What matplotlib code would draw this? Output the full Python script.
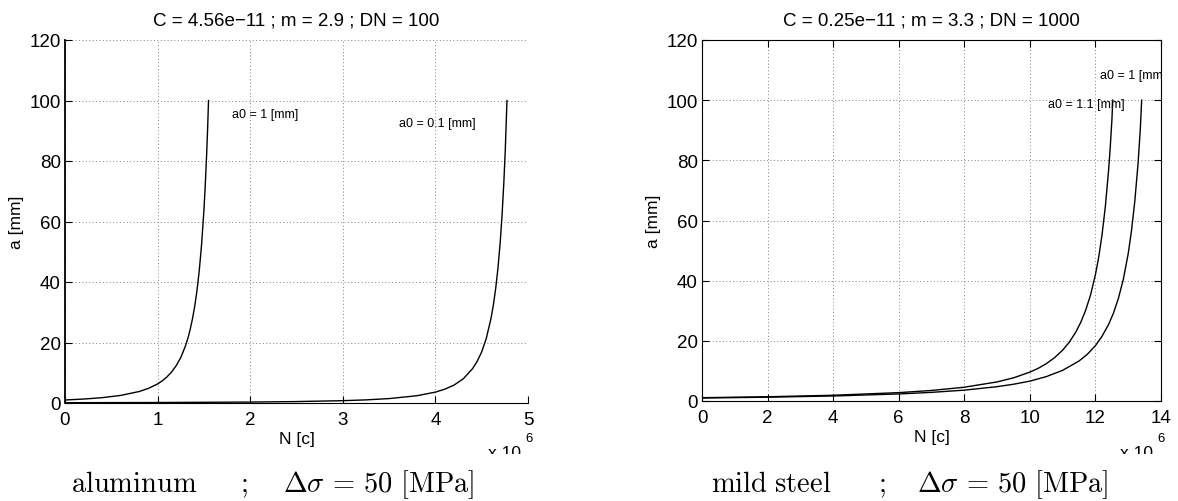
import matplotlib.pyplot as plt
from matplotlib.patches import Rectangle

plt.rcParams['font.family'] = ['Liberation Sans', 'DejaVu Sans']
plt.rcParams['mathtext.fontset'] = 'cm'

# N in millions of cycles, a in mm
al_n_1 = [0, 0.2, 0.4, 0.6, 0.8, 0.9, 1.0, 1.05, 1.1, 1.15, 1.2, 1.25, 1.3, 1.33, 1.35,
          1.375, 1.4, 1.425, 1.45, 1.475, 1.5, 1.515, 1.53, 1.54, 1.55]
al_a_1 = [1.0, 1.30, 1.76, 2.50, 3.79, 4.82, 6.3, 7.32, 8.6, 10.2, 12.3, 15.0, 18.8, 21.7, 24.1,
          27.6, 31.8, 37.1, 43.8, 52.4, 63.6, 72.2, 82.5, 90.5, 100]
al_n_2 = [0, 1, 2, 2.5, 3, 3.25, 3.5, 3.8, 4.0, 4.1, 4.2, 4.3, 4.4, 4.45, 4.5, 4.55, 4.6,
          4.625, 4.65, 4.675, 4.7, 4.72, 4.74, 4.755, 4.773]
al_a_2 = [0.1, 0.16, 0.31, 0.47, 0.77, 1.03, 1.46, 2.40, 3.6, 4.55, 5.9, 7.97, 11.3, 13.7, 16.9, 21.4, 27.9,
          32.2, 37.6, 44.4, 53.2, 62.2, 73.4, 83.9, 100]

st_n_1 = [0, 2, 4, 6, 7, 8, 9, 9.5, 10, 10.25, 10.5, 10.75, 11, 11.2, 11.4, 11.55, 11.7, 11.85,
          12.0, 12.1, 12.2, 12.3, 12.4, 12.45, 12.5, 12.53]
st_a_1 = [1.1, 1.41, 1.91, 2.78, 3.50, 4.58, 6.34, 7.69, 9.6, 10.84, 12.4, 14.37, 16.9, 19.5, 22.9, 26.1, 30.1, 35.2,
          42.0, 47.8, 55.1, 64.4, 76.5, 84.0, 93.0, 100]
st_n_2 = [0, 2, 4, 6, 7, 8, 9, 9.5, 10, 10.5, 11, 11.5, 11.75, 12, 12.2, 12.4, 12.55, 12.7,
          12.85, 13.0, 13.1, 13.2, 13.3, 13.37, 13.41]
st_a_2 = [1.0, 1.26, 1.67, 2.34, 2.87, 3.61, 4.76, 5.57, 6.6, 8.1, 10.2, 13.3, 15.5, 18.4, 21.5, 25.4, 29.2, 34.1,
          40.4, 49.0, 56.6, 66.3, 78.9, 90.6, 100]

al_title = "C = 4.56e\u221211 ; m = 2.9 ; DN = 100"
st_title = "C = 0.25e\u221211 ; m = 3.3 ; DN = 1000"

W, H = 1178, 502
fig = plt.figure(figsize=(W / 100, H / 100), dpi=100)


def px_box(x0, y0, x1, y1):
    return [x0 / W, 1 - y1 / H, (x1 - x0) / W, (y1 - y0) / H]


def style(ax, xmax, xticks, box):
    ax.set_xlim(0, xmax)
    ax.set_ylim(0, 120)
    ax.set_xticks(xticks)
    ax.set_yticks(range(0, 121, 20))
    ax.grid(True, linestyle=(0, (1, 2.5)), color='0.5', linewidth=0.7)
    ax.set_axisbelow(True)
    ax.tick_params(direction='in', length=5, labelsize=13.5, top=box, right=box)
    ax.tick_params(axis='x', pad=6)
    ax.tick_params(axis='y', pad=3)
    for s in ['top', 'right']:
        ax.spines[s].set_visible(box)
    ax.set_xlabel("N [c]", fontsize=12.5, labelpad=2)
    ax.set_ylabel("a [mm]", fontsize=12.5, labelpad=4)


ax1 = fig.add_axes(px_box(65, 41, 528, 404))
ax1.plot(al_n_1, al_a_1, color='black', lw=1.0)
ax1.plot(al_n_2, al_a_2, color='black', lw=1.0)
style(ax1, 5, range(0, 6), False)
ax1.spines['left'].set_linewidth(1.3)
ax1.set_title(al_title, fontsize=13.5, pad=11)
ax1.text(1.80, 95.5, "a0 = 1 [mm]", fontsize=9, va='center')
ax1.text(3.61, 92.6, "a0 = 0.1 [mm]", fontsize=9, va='center')

ax2 = fig.add_axes(px_box(702, 41, 1161, 402))
ax2.plot(st_n_1, st_a_1, color='black', lw=1.0)
ax2.plot(st_n_2, st_a_2, color='black', lw=1.0)
style(ax2, 14, range(0, 15, 2), True)
ax2.set_title(st_title, fontsize=13.5, pad=11)
ax2.text(12.13, 108.4, "a0 = 1 [mm]", fontsize=9, va='center', clip_on=True)
ax2.text(10.55, 98.7, "a0 = 1.1 [mm]", fontsize=9, va='center')

# "x 10^6" multipliers, cut off at the bottom like in the source
for x in [488, 1120]:
    fig.text(x / W, 1 - 446 / H, "x 10", fontsize=12.5, va='top')
    fig.text((x + 37) / W, 1 - 433 / H, "6", fontsize=9.5, va='top')
fig.patches.append(Rectangle((0, 0), 1, 1 - 455 / H, transform=fig.transFigure,
                             facecolor='white', edgecolor='none', zorder=5))

# captions
cap = dict(fontsize=20.5, va='baseline', zorder=6)
formula = r"$\mathit{\Delta}\sigma\,=\,50\ [\mathrm{MPa}]$"
fig.text(71 / W, 1 - 492 / H, r"$\mathrm{aluminum}$", **cap)
fig.text(240 / W, 1 - 492 / H, r"$;$", **cap)
fig.text(283 / W, 1 - 492 / H, formula, **cap)
fig.text(711 / W, 1 - 492 / H, r"$\mathrm{mild\ steel}$", **cap)
fig.text(878 / W, 1 - 492 / H, r"$;$", **cap)
fig.text(917 / W, 1 - 492 / H, formula, **cap)

fig.savefig("out.png", dpi=100)
